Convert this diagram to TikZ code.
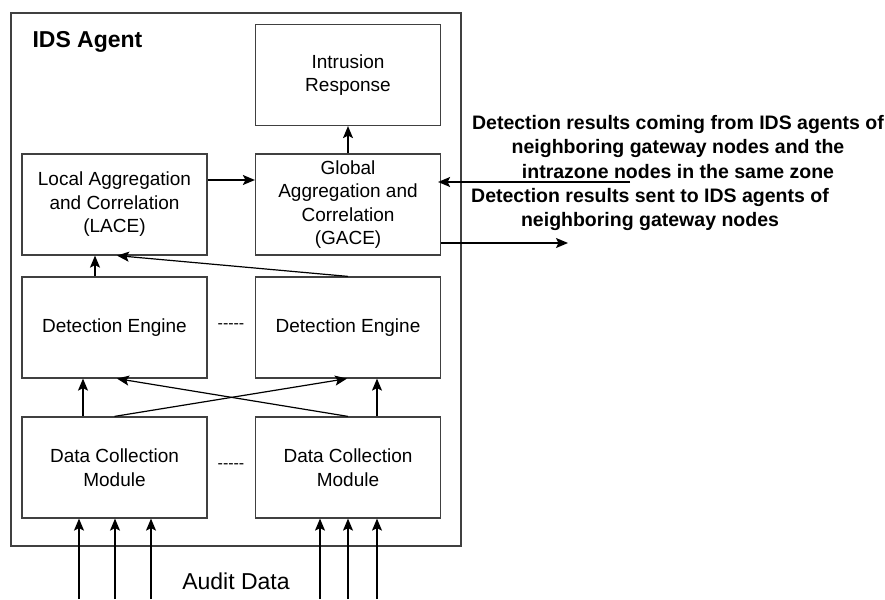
\documentclass[tikz,border=0pt]{standalone}
\usepackage{fontspec}
\setmainfont{Liberation Sans}
\usetikzlibrary{arrows.meta}

\begin{document}
\begin{tikzpicture}[x=1pt,y=-1pt,
    block/.style={draw=black!75,line width=1.2pt,minimum width=185pt,minimum height=101pt,
        inner sep=0pt,align=center,font=\fontsize{19}{23.5}\selectfont},
    arr/.style={-{Stealth[length=12pt,width=10pt,inset=2.5pt]},line width=1.2pt},
    side/.style={align=center,font=\fontsize{19.5}{24.5}\selectfont\bfseries}]
                    \useasboundingbox (0,0) rectangle (885,599);
                    \node[draw=black!75,line width=1.2pt,minimum width=450pt,minimum height=533pt] (agent) at (236,279.5){};
                    \node[anchor=west,font=\fontsize{23}{27}\selectfont\bfseries] (title) at (29,42){IDS Agent};

                    \node[block] (ir) at (348,75){Intrusion\\Response};
                    \node[block] (lace) at (114.5,204.5){Local Aggregation\\and Correlation\\(LACE)};
                    \node[block] (gace) at (348,204.5){Global\\Aggregation and\\Correlation\\(GACE)};
                    \node[block] (del) at (114.5,327.5){Detection Engine};
                    \node[block] (der) at (348,327.5){Detection Engine};
                    \node[block] (dcl) at (114.5,467.5){Data Collection\\Module};
                    \node[block] (dcr) at (348,467.5){Data Collection\\Module};
                    \node[font=\fontsize{16}{18}\selectfont] (dots1) at (231,326){{-}{-}{-}{-}{-}};
                    \node[font=\fontsize{16}{18}\selectfont] (dots2) at (231,466){{-}{-}{-}{-}{-}};
                    \node[font=\fontsize{23}{27}\selectfont] (audit) at (236,581){Audit Data};

                    \node[side] (intext) at (678,147){Detection results coming from IDS agents of\\neighboring gateway nodes and the\\intrazone nodes in the same zone};
                    \node[side] (outtext) at (650,209.5){Detection results sent to IDS agents of\\neighboring gateway nodes};

                    \draw[arr] (gace.north) -- (ir.south);
                    \draw[arr] ([yshift=24.5pt]lace.east) -- ([yshift=24.5pt]gace.west);
                    \draw[arr] ([xshift=-19.5pt]del.north) -- ([xshift=-19.5pt]lace.south);
                    \draw[arr] (der.north) -- ([xshift=2.5pt]lace.south);
                    \draw[arr] ([xshift=-31.5pt]dcl.north) -- ([xshift=-31.5pt]del.south);
                    \draw[arr] (dcl.north) -- ([xshift=-1pt]der.south);
                    \draw[arr] (dcr.north) -- ([xshift=2.5pt]del.south);
                    \draw[arr] ([xshift=29pt]dcr.north) -- ([xshift=29pt]der.south);

                    \foreach \n/\x in {1/79,2/115,3/151}
                        \coordinate (al\n) at (\x,599);
                    \foreach \n/\x in {1/320,2/348,3/377}
                        \coordinate (ar\n) at (\x,599);
                    \foreach \n in {1,2,3}{
                        \draw[arr] (al\n) -- (al\n |- dcl.south);
                        \draw[arr] (ar\n) -- (ar\n |- dcr.south);
                    }

                    \coordinate (inend) at (630,182);
                    \coordinate (outend) at (568,243);
                    \draw[arr,shorten >=-3pt] (inend) -- (gace.east |- inend);
                    \draw[arr] (gace.east |- outend) -- (outend);
                \end{tikzpicture}
\end{document}
